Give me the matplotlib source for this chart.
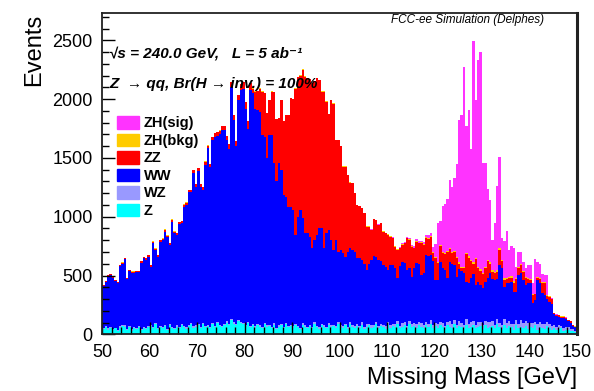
import numpy as np
import matplotlib
matplotlib.use("Agg")
import matplotlib.pyplot as plt
from matplotlib.patches import Patch

plt.rcParams['font.family'] = ['Liberation Sans', 'DejaVu Sans']

# missing mass histogram, 200 bins of 0.5 GeV from 50 to 150 GeV
mass_lo, mass_hi, n_bins = 50, 150, 200

# Z -> qq events per bin
z_evt = [
    45, 60, 40, 55, 35, 50, 30, 55, 70, 65, 40, 60, 30, 50, 45, 65, 35, 55, 45, 60,
    70, 50, 85, 45, 60, 50, 70, 40, 75, 55, 45, 65, 50, 80, 60, 45, 70, 85, 55, 65,
    75, 50, 90, 60, 70, 55, 85, 65, 95, 70, 60, 80, 100, 75, 120, 90, 80, 110, 95, 85,
    70, 95, 60, 80, 55, 75, 65, 50, 85, 60, 70, 55, 80, 45, 65, 75, 50, 85, 60, 70,
    55, 75, 60, 45, 80, 65, 50, 70, 55, 85, 60, 45, 75, 65, 50, 80, 60, 70, 55, 90,
    65, 50, 75, 45, 85, 60, 55, 70, 50, 80, 45, 65, 75, 55, 60, 85, 50, 70, 65, 45,
    80, 55, 70, 60, 90, 50, 65, 75, 45, 85, 60, 70, 55, 80, 65, 50, 75, 60, 85, 55,
    70, 50, 80, 60, 45, 75, 65, 55, 85, 50, 70, 60, 45, 80, 55, 65, 75, 50, 60, 70,
    45, 80, 55, 65, 70, 50, 85, 60, 45, 75, 55, 70, 60, 40, 80, 50, 65, 55, 70, 45,
    60, 50, 75, 40, 65, 55, 45, 70, 50, 40, 55, 35, 45, 50, 30, 40, 35, 25, 30, 20,
]

wz_evt = [
    10, 8, 12, 9, 11, 7, 10, 12, 9, 11, 8, 10, 13, 9, 11, 8, 12, 10, 9, 11,
    10, 12, 8, 11, 9, 13, 10, 8, 12, 11, 9, 10, 12, 8, 11, 13, 9, 10, 12, 11,
    10, 12, 9, 13, 11, 10, 14, 9, 12, 11, 13, 10, 12, 15, 11, 13, 10, 14, 12, 11,
    13, 10, 12, 11, 14, 12, 10, 13, 11, 15, 12, 10, 14, 11, 13, 12, 15, 10, 13, 12,
    14, 11, 13, 12, 15, 10, 14, 13, 11, 16, 12, 14, 13, 15, 11, 14, 16, 12, 15, 13,
    15, 18, 14, 17, 20, 16, 19, 15, 18, 21, 17, 20, 16, 22, 19, 18, 23, 20, 17, 24,
    22, 25, 20, 28, 24, 21, 30, 26, 23, 32, 27, 25, 35, 22, 30, 28, 33, 26, 38, 24,
    30, 35, 28, 40, 26, 33, 45, 30, 38, 27, 42, 35, 30, 48, 32, 40, 36, 28, 45, 34,
    38, 30, 50, 36, 42, 33, 48, 40, 35, 52, 38, 45, 30, 50, 40, 35, 55, 38, 42, 48,
    36, 44, 30, 50, 40, 35, 45, 32, 38, 30, 28, 25, 30, 22, 26, 20, 24, 18, 15, 12,
]

ww_evt = [
    356, 380, 444, 438, 429, 399, 399, 513, 521, 562, 422, 471, 481, 465, 471, 459, 562, 581, 578, 589,
    495, 712, 624, 604, 719, 739, 793, 777, 673, 892, 805, 770, 876, 856, 1014, 1042, 1128, 1115, 1308, 1174,
    1304, 1193, 1131, 1367, 1500, 1355, 1553, 1606, 1583, 1619, 1664, 1647, 1540, 1490, 1975, 1719, 1510, 1869, 1970, 1994,
    1837, 1645, 2005, 1959, 1851, 1819, 1818, 1630, 1584, 1425, 1611, 1628, 1359, 1244, 1375, 1313, 1119, 1075, 1012, 1003,
    988, 759, 927, 1000, 891, 783, 794, 747, 665, 701, 773, 842, 813, 651, 797, 793, 726, 635, 732, 599,
    637, 620, 571, 640, 626, 641, 626, 561, 578, 531, 538, 462, 509, 553, 587, 557, 559, 530, 508, 506,
    445, 510, 500, 473, 366, 509, 523, 509, 479, 443, 403, 466, 514, 498, 410, 442, 567, 584, 552, 541,
    362, 377, 510, 460, 476, 368, 508, 515, 467, 413, 442, 445, 445, 319, 346, 375, 399, 342, 342, 316,
    309, 337, 371, 417, 358, 377, 337, 490, 480, 278, 340, 318, 357, 272, 242, 420, 399, 367, 307, 340,
    337, 169, 186, 372, 335, 258, 244, 198, 189, 190, 87, 95, 75, 68, 86, 70, 53, 57, 27, 28,
]

zz_evt = [
    5, 6, 8, 7, 9, 6, 8, 10, 9, 11, 7, 9, 10, 8, 12, 9, 11, 10, 13, 12,
    12, 14, 11, 13, 15, 12, 16, 14, 13, 17, 15, 18, 16, 19, 17, 20, 22, 18, 21, 24,
    22, 25, 23, 27, 24, 28, 26, 30, 29, 33, 31, 35, 34, 38, 36, 40, 45, 42, 48, 55,
    52, 60, 58, 40, 143, 164, 197, 370, 370, 380, 297, 370, 607, 530, 387, 590, 626, 695, 780, 925,
    943, 1245, 1190, 1143, 1264, 1332, 1322, 1340, 1403, 1348, 1335, 1259, 1162, 1332, 1120, 983, 1188, 1243, 850, 950,
    883, 737, 765, 653, 559, 567, 499, 454, 444, 439, 429, 368, 315, 257, 312, 308, 297, 324, 282, 283,
    297, 240, 226, 184, 237, 151, 142, 163, 269, 242, 255, 170, 183, 173, 268, 240, 141, 138, 150, 70,
    188, 141, 133, 130, 133, 224, 107, 90, 110, 155, 46, 20, 40, 233, 217, 140, 90, 220, 113, 120,
    118, 113, 144, 82, 60, 60, 60, 130, 60, 57, 37, 47, 33, 78, 108, 55, 71, 70, 61, 37,
    27, 70, 49, 18, 30, 92, 106, 30, 43, 40, 8, 9, 10, 10, 8, 10, 10, 10, 8, 6,
]

zh_bkg_evt = [
    2, 1, 2, 3, 1, 2, 2, 1, 3, 2, 2, 1, 2, 3, 2, 1, 2, 2, 3, 1,
    2, 3, 2, 1, 2, 2, 3, 2, 1, 2, 3, 2, 2, 1, 3, 2, 2, 3, 1, 2,
    3, 2, 2, 3, 2, 1, 3, 2, 2, 3, 2, 3, 2, 2, 3, 3, 2, 3, 2, 3,
    3, 2, 3, 3, 2, 3, 3, 2, 3, 3, 2, 3, 3, 2, 3, 3, 3, 2, 3, 3,
    3, 3, 2, 3, 3, 3, 3, 2, 3, 3, 3, 3, 3, 2, 3, 3, 3, 3, 3, 3,
    3, 4, 3, 3, 4, 3, 4, 3, 4, 4, 4, 3, 4, 4, 4, 5, 4, 4, 5, 5,
    5, 5, 6, 5, 6, 6, 6, 7, 6, 7, 7, 7, 8, 7, 8, 8, 9, 8, 9, 9,
    10, 9, 10, 11, 10, 11, 12, 11, 12, 12, 13, 12, 13, 14, 13, 14, 14, 13, 14, 15,
    14, 13, 14, 15, 13, 14, 13, 14, 12, 13, 12, 11, 12, 11, 10, 11, 10, 9, 10, 9,
    8, 9, 7, 8, 7, 6, 7, 6, 5, 4, 3, 3, 3, 2, 2, 2, 2, 1, 1, 1,
]

zh_sig_evt = [
    0, 0, 0, 0, 0, 0, 0, 0, 0, 0, 0, 0, 0, 0, 0, 0, 0, 0, 0, 0,
    0, 0, 0, 0, 0, 0, 0, 0, 0, 0, 0, 0, 0, 0, 0, 0, 0, 0, 0, 0,
    0, 0, 0, 0, 0, 0, 0, 0, 0, 0, 0, 0, 0, 0, 0, 0, 0, 0, 0, 0,
    0, 0, 0, 0, 0, 0, 0, 0, 0, 0, 0, 0, 0, 0, 0, 0, 0, 0, 0, 0,
    0, 0, 0, 0, 0, 0, 0, 0, 0, 0, 0, 0, 0, 0, 0, 0, 0, 0, 0, 0,
    0, 0, 0, 0, 0, 0, 0, 0, 0, 0, 1, 0, 1, 1, 1, 2, 1, 2, 2, 2,
    3, 4, 5, 4, 6, 5, 7, 6, 8, 9, 10, 9, 12, 14, 15, 18, 20, 25, 30, 45,
    110, 337, 199, 390, 420, 440, 575, 550, 620, 795, 1210, 1295, 1700, 1076, 1247, 940, 1880, 1340, 1760, 1850,
    930, 880, 600, 530, 260, 413, 715, 770, 190, 318, 393, 227, 255, 281, 95, 130, 103, 78, 71, 110,
    120, 97, 296, 128, 120, 69, 55, 165, 5, 3, 2, 2, 1, 1, 1, 1, 0, 0, 0, 0,
]

labels = ['ZH(sig)', 'ZH(bkg)', 'ZZ', 'WW', 'WZ', 'Z']
colors = ['#ff33ff', '#ffcc00', '#ff0000', '#0000ff', '#9999ff', '#00ffff']

edges = np.linspace(mass_lo, mass_hi, n_bins + 1)

# stack from the bottom: Z, WZ, WW, ZZ, ZH(bkg), ZH(sig)
layers = [z_evt, wz_evt, ww_evt, zz_evt, zh_bkg_evt, zh_sig_evt]
stacked = np.cumsum(np.array(layers, dtype=float), axis=0)

fig = plt.figure(figsize=(5.94, 3.91), dpi=100)
ax = fig.add_axes([0.1722, 0.145, 0.7987, 0.821])

# draw cumulative totals from the top layer down, each filled from zero
for tot, col in zip(stacked[::-1], colors):
    ax.stairs(tot, edges, baseline=0, fill=True, color=col, linewidth=0)

ax.set_xlim(mass_lo, mass_hi)
ax.set_ylim(0, 2730)
ax.set_xticks(np.arange(50, 151, 10))
ax.set_xticks(np.arange(50, 151, 2), minor=True)
ax.set_yticks(np.arange(0, 2501, 500))
ax.set_yticks(np.arange(0, 2701, 100), minor=True)
ax.tick_params(which='both', direction='in', top=False, right=False, labelsize=13, pad=7)
ax.tick_params(which='major', length=9, width=1)
ax.tick_params(which='minor', length=5, width=1)
for side in ax.spines.values():
    side.set_linewidth(1.3)
    side.set_color('#222222')
ax.spines['right'].set_linewidth(2.2)

ax.set_xlabel('Missing Mass [GeV]', fontsize=17, loc='right', labelpad=4)
ax.set_ylabel('Events', fontsize=17, loc='top', labelpad=5)

ax.text(0.015, 0.875, '\u221as = 240.0 GeV,   L = 5 ab\u207b\u00b9', transform=ax.transAxes,
        fontsize=11, fontweight='bold', fontstyle='italic', va='center', ha='left')
ax.text(0.015, 0.78, 'Z  \u2192 qq, Br(H \u2192 inv.) = 100%', transform=ax.transAxes,
        fontsize=11, fontweight='bold', fontstyle='italic', va='center', ha='left')
ax.text(0.93, 0.998, 'FCC-ee Simulation (Delphes)', transform=ax.transAxes,
        fontsize=8.5, fontstyle='italic', va='top', ha='right')

handles = [Patch(facecolor=c, edgecolor=c) for c in colors]
leg = ax.legend(handles, labels, loc='upper left', bbox_to_anchor=(0.03, 0.68),
                frameon=False, fontsize=10.5, handlelength=1.55, handleheight=0.95,
                handletextpad=0.3, labelspacing=0.22, borderpad=0, borderaxespad=0)
for t in leg.get_texts():
    t.set_fontweight('bold')

fig.savefig('out.png', dpi=100)
